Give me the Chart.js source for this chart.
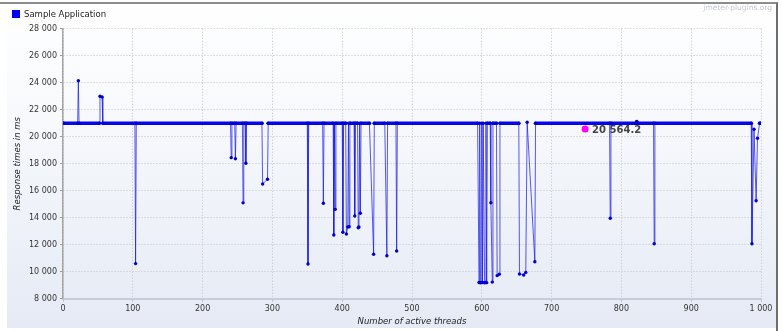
<!DOCTYPE html>
<html>
<head>
<meta charset="utf-8">
<script src="https://cdn.jsdelivr.net/npm/chart.js@4"></script>
<style>
  body { margin: 0; background: #fff; }
  #wrap { position: relative; width: 782px; height: 331px; overflow: hidden; background: #fff; }
  .frame { position: absolute; left: 0; top: 2px; width: 776px; height: 327px;
           border-top: 2px solid #8c8c8c; border-right: 2px solid #6e6e6e; }
  .panel { position: absolute; left: 7px; top: 4px; width: 769px; height: 324px;
           background: linear-gradient(to bottom, #ffffff 0%, #f7f9fc 35%, #e5eaf5 100%); }
  canvas { position: absolute; left: 0; top: 0; }
  .legend { position: absolute; left: 12px; top: 9px; font: 8.5px "DejaVu Sans", sans-serif;
            color: #222; line-height: 11px; white-space: nowrap; }
  .legend .box { display: inline-block; width: 8px; height: 8px; background: #0000ff;
                 margin-right: 4px; vertical-align: -1px; }
  .brand { position: absolute; right: 10px; top: 3px; font: 7.5px "DejaVu Sans", sans-serif;
           color: #c3c7ce; }
</style>
</head>
<body>
<div id="wrap">
  <div class="frame"></div>
  <div class="panel"></div>
  <canvas id="rtChart" width="782" height="331"></canvas>
  <div class="legend"><span class="box"></span>Sample Application</div>
  <div class="brand">jmeter-plugins.org</div>
</div>
<script>
// Response time per number of active threads
const SERIES_NAME = "Sample Application";
const threads = [
  1, 21, 22, 23, 52, 53, 56, 57, 103, 104, 105,
  240, 241, 242, 246, 247, 248, 257, 258, 259, 261, 262, 263,
  285, 286, 293, 294, 350, 351, 352, 372, 373, 374,
  387, 388, 389, 390, 391, 400, 401, 402, 405, 406, 408, 409, 410, 411,
  417, 418, 419, 422, 423, 424, 425, 426, 427, 439, 445, 446,
  461, 464, 465, 477, 478, 479,
  594, 596, 597, 598, 599, 600, 601, 602, 604, 605, 606, 607, 608,
  612, 613, 615, 616, 621, 622, 625, 626,
  653, 654, 660, 663, 665, 676, 677,
  783, 784, 785, 821, 822, 823, 846, 847, 848,
  986, 987, 990, 993, 995, 998, 1000
];
const responseMs = [
  21000, 21000, 24150, 21000, 21000, 23000, 22950, 21000, 21000, 10600, 21000,
  21000, 18450, 21000, 21000, 18370, 21000, 21000, 15100, 21000, 21000, 18030, 21000,
  21000, 16500, 16850, 21000, 21000, 10570, 21000, 21000, 15070, 21000,
  21000, 12720, 21000, 14620, 21000, 21000, 12920, 21000, 21000, 12790, 13310, 21000, 13330, 21000,
  21000, 14130, 21000, 21000, 13260, 13310, 21000, 14330, 21000, 21000, 11290, 21000,
  21000, 11180, 21000, 21000, 11530, 21000,
  21000, 9200, 21000, 9180, 9200, 21000, 9200, 21000, 9180, 9200, 21000, 9190, 21000,
  21000, 15110, 9230, 21000, 21000, 9710, 9810, 21000,
  21000, 9830, 9760, 9950, 21070, 10740, 21000,
  21000, 13960, 21000, 21000, 21120, 21000, 21000, 12070, 21000,
  21000, 12070, 20550, 15260, 19880, 21000, 21000
];
// aggregate (average) marker
const avgThreads = [748];
const avgMs = [20564.2];

const xTicks = { min: 0, max: 1000, step: 100 };
const yTicks = { min: 8000, max: 28000, step: 2000 };

const FONT = "'DejaVu Sans', sans-serif";

function spaced(v) {
  return String(v).replace(/\B(?=(\d{3})+(?!\d))/g, " ");
}

function isBase(y) { return y >= 20900 && y <= 21200; }

const avgLabel = {
  id: "avgLabel",
  afterDatasetsDraw(chart) {
    const meta = chart.getDatasetMeta(1);
    const ctx = chart.ctx;
    ctx.save();
    ctx.font = "bold 10px " + FONT;
    ctx.fillStyle = "#444";
    ctx.textBaseline = "middle";
    meta.data.forEach((pt, i) => {
      ctx.fillText(spaced(avgMs[i]), pt.x + 7, pt.y + 1);
    });
    ctx.restore();
  }
};

new Chart(document.getElementById("rtChart").getContext("2d"), {
  type: "line",
  data: {
    datasets: [{
      label: SERIES_NAME,
      data: threads.map((t, i) => ({ x: t, y: responseMs[i] })),
      borderColor: "rgba(20,20,230,0.7)",
      borderWidth: 1,
      borderJoinStyle: "round",
      borderCapStyle: "round",
      pointRadius: 1.7,
      pointBackgroundColor: "#0000d0",
      pointBorderWidth: 0,
      tension: 0,
      segment: {
        borderWidth: c => (isBase(c.p0.parsed.y) && isBase(c.p1.parsed.y)) ? 3.5 : 1,
        borderColor: c => (isBase(c.p0.parsed.y) && isBase(c.p1.parsed.y)) ? "#0606e8" : "rgba(20,20,230,0.7)",
      },
    }, {
      label: "Average",
      data: avgThreads.map((t, i) => ({ x: t, y: avgMs[i] })),
      showLine: false,
      pointRadius: 3.5,
      pointBackgroundColor: "#ff00ff",
      pointBorderWidth: 0,
    }]
  },
  options: {
    responsive: false,
    devicePixelRatio: 1,
    animation: false,
    layout: { padding: { left: 0, right: 21, top: 28.7, bottom: 0 } },
    plugins: { legend: { display: false }, tooltip: { enabled: false } },
    scales: {
      x: {
        type: "linear",
        min: xTicks.min, max: xTicks.max,
        afterFit: s => { s.height = 32.3; },
        border: { color: "#c6ccda", width: 2, dash: [1, 2] },
        grid: { color: "#c2c2c2", lineWidth: 1, tickLength: 3, tickColor: "#b8bcc6", tickBorderDash: [] },
        ticks: {
          stepSize: xTicks.step, autoSkip: false, maxRotation: 0, padding: 2,
          color: "#333", font: { family: FONT, size: 8 },
          callback: v => spaced(v),
        },
        title: {
          display: true, text: "Number of active threads", color: "#222",
          font: { family: FONT, size: 8.5, style: "italic" },
          padding: { top: 0, bottom: 4 },
        },
      },
      y: {
        min: yTicks.min, max: yTicks.max,
        afterFit: s => { s.width = 63; },
        border: { color: "#a4a4a4", width: 1.5, dash: [1, 2] },
        grid: { color: "#c2c2c2", lineWidth: 1, tickLength: 3, tickColor: "#9a9a9a", tickBorderDash: [] },
        ticks: {
          stepSize: yTicks.step, padding: 3,
          color: "#333", font: { family: FONT, size: 8 },
          callback: v => spaced(v),
        },
        title: {
          display: true, text: "Response times in ms", color: "#222",
          font: { family: FONT, size: 8.5, style: "italic" },
          padding: { top: 13, bottom: 0 },
        },
      },
    },
  },
  plugins: [avgLabel],
});
</script>
</body>
</html>
